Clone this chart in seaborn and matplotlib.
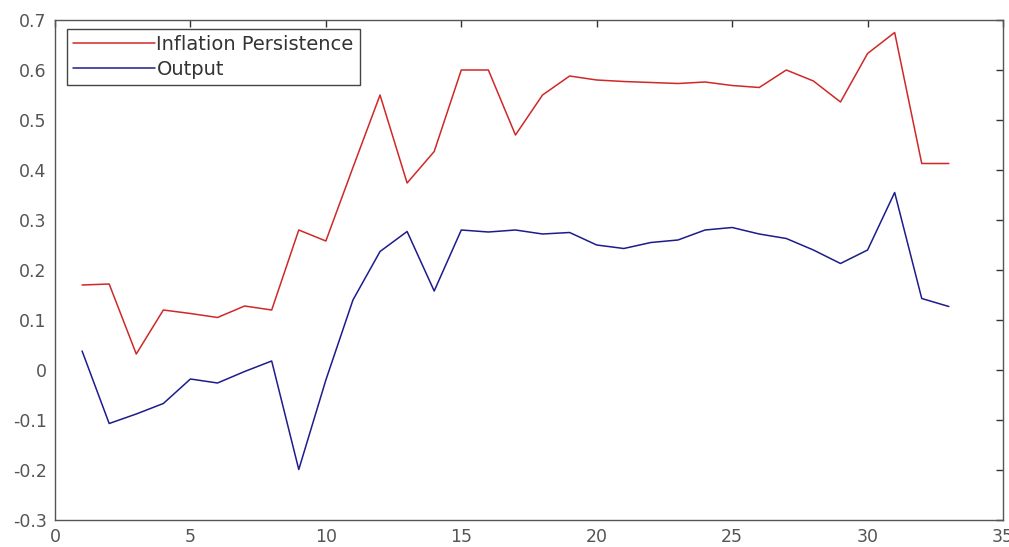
import numpy as np
import pandas as pd
import matplotlib
matplotlib.use("Agg")
import matplotlib.pyplot as plt
import seaborn as sns

periods = list(range(1, 34))
inflation = [0.170, 0.172, 0.032, 0.120, 0.113, 0.105, 0.128, 0.120, 0.280, 0.258,
             0.405, 0.550, 0.374, 0.437, 0.600, 0.600, 0.470, 0.550, 0.588, 0.580,
             0.577, 0.575, 0.573, 0.576, 0.569, 0.565, 0.600, 0.578, 0.536, 0.633,
             0.675, 0.413, 0.413]
output = [0.038, -0.107, -0.088, -0.067, -0.018, -0.026, -0.003, 0.018, -0.199, -0.020,
          0.140, 0.237, 0.277, 0.158, 0.280, 0.276, 0.280, 0.272, 0.275, 0.250,
          0.243, 0.255, 0.260, 0.280, 0.285, 0.272, 0.263, 0.240, 0.213, 0.240,
          0.355, 0.143, 0.127]
series_names = ["Inflation Persistence", "Output"]
colors = ["#d02828", "#1c1c8c"]
xticks = [0, 5, 10, 15, 20, 25, 30, 35]
yticks = [-0.3, -0.2, -0.1, 0, 0.1, 0.2, 0.3, 0.4, 0.5, 0.6, 0.7]
ytick_labels = ["-0.3", "-0.2", "-0.1", "0", "0.1", "0.2", "0.3", "0.4", "0.5", "0.6", "0.7"]

df = pd.DataFrame({
    "period": periods * 2,
    "value": inflation + output,
    "series": [series_names[0]] * len(periods) + [series_names[1]] * len(periods),
})

sns.set_style("white")
plt.rcParams["font.family"] = ["DejaVu Sans"]

fig = plt.figure(figsize=(10.09, 5.47), dpi=100)
ax = fig.add_axes([55 / 1009, 1 - 520 / 547, (1003 - 55) / 1009, (520 - 20) / 547])

sns.lineplot(data=df, x="period", y="value", hue="series", palette=colors,
             hue_order=series_names, linewidth=1.1, ax=ax, legend=True)

ax.set_xlim(0, 35)
ax.set_ylim(-0.3, 0.7)
ax.set_xticks(xticks)
ax.set_xticklabels([str(t) for t in xticks])
ax.set_yticks(yticks)
ax.set_yticklabels(ytick_labels)
ax.set_xlabel("")
ax.set_ylabel("")
ax.tick_params(direction="in", length=5, width=1, colors="#333333",
               top=True, right=True, labelsize=12.5, labelcolor="#555555", pad=6)
for s in ax.spines.values():
    s.set_visible(True)
    s.set_color("#555555")
    s.set_linewidth(1.0)

leg = ax.legend(loc="upper left", bbox_to_anchor=(0.0127, 0.982), fontsize=14,
                frameon=True, fancybox=False, framealpha=1, edgecolor="#444444",
                handlelength=4.2, handletextpad=0.1, borderpad=0.3,
                labelspacing=0.3, borderaxespad=0)
leg.get_frame().set_linewidth(1.0)
for t in leg.get_texts():
    t.set_color("#333333")

fig.savefig("out.png", dpi=100)
